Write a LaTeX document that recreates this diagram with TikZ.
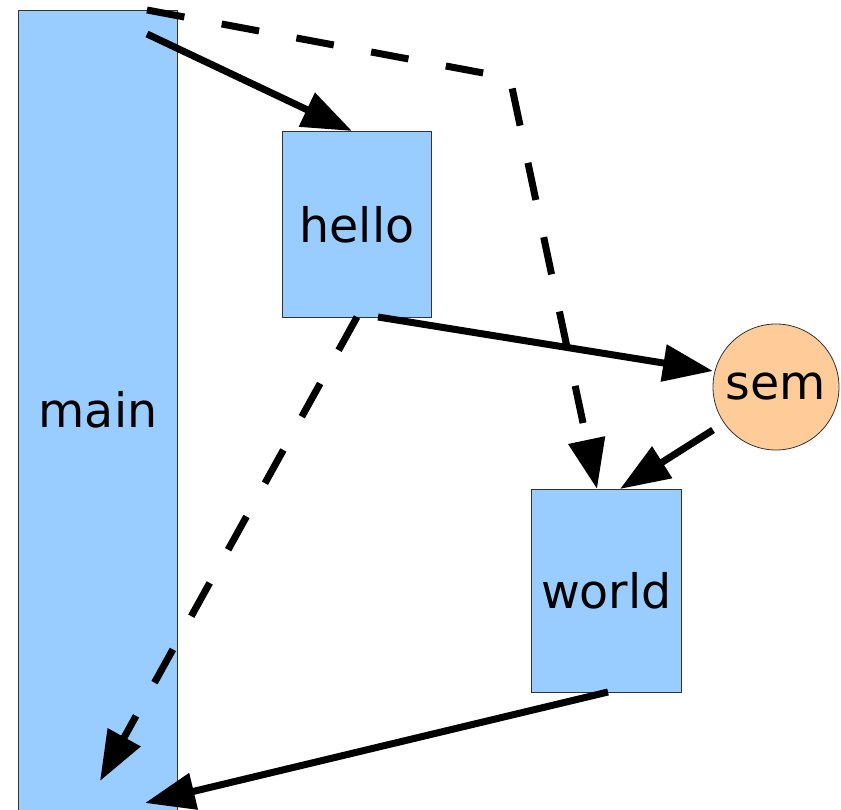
\documentclass[tikz,border=0pt]{standalone}
\usepackage{fontspec}
\setmainfont{DejaVu Sans}
\usetikzlibrary{arrows.meta,calc}
\definecolor{boxblue}{HTML}{99CCFF}
\definecolor{semorange}{HTML}{FFCC99}
\tikzset{
  labelfont/.style={font=\fontsize{47.5}{52}\selectfont},
  proc/.style={draw=black!80, line width=0.8pt, fill=boxblue, rectangle, inner sep=0pt, labelfont},
  semnode/.style={draw=black!80, line width=0.8pt, fill=semorange, circle, inner sep=0pt,
    minimum size=126pt, labelfont},
  flow/.style={line width=7pt, -{Triangle[length=50pt,width=36pt]}},
  dashflow/.style={flow, dash pattern=on 38pt off 38pt},
}
\begin{document}
\begin{tikzpicture}[x=1pt, y=-1pt]
  \useasboundingbox (0,0) rectangle (841,810);
  \clip (0,0) rectangle (841,810);
  % thread boxes
  \node[proc, minimum width=159pt, minimum height=820pt, anchor=north west] (main) at (18,10) {};
  \node at (98,410) [labelfont] (mainlabel) {main};
  \node[proc, minimum width=149pt, minimum height=186pt, anchor=north west] (hello) at (282,131) {hello};
  \node[proc, minimum width=150pt, minimum height=203pt, anchor=north west] (world) at (531,489) {world};
  \node[semnode] (sem) at (776,387) {sem};
  % connection points
  \coordinate (mainA) at (147,34);
  \coordinate (mainB) at (147,10);
  \coordinate (mainC) at (100,781);
  \coordinate (mainD) at (145,803);
  \coordinate (bend) at (510,78);
  \coordinate (helloT) at (352,131);
  \coordinate (helloB1) at (357,317);
  \coordinate (helloB2) at (378,317);
  \coordinate (semW) at (713,371);
  \coordinate (semSW) at (713,430);
  \coordinate (worldT1) at (597,489);
  \coordinate (worldT2) at (620,489);
  \coordinate (worldB) at (608,692);
  % connectors
  \draw[flow] (mainA) -- (helloT);
  \draw[dashflow] (mainB) -- (bend) -- (worldT1);
  \draw[flow] (helloB2) -- (semW);
  \draw[dashflow] (helloB1) -- (mainC);
  \draw[flow] (semSW) -- (worldT2);
  \draw[flow] (worldB) -- (mainD);
\end{tikzpicture}
\end{document}
